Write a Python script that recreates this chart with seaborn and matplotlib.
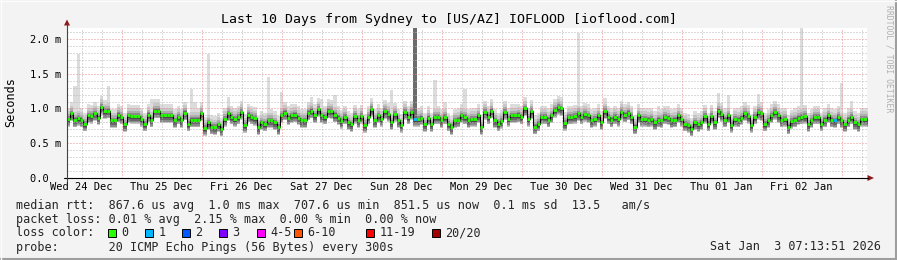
import numpy as np
import pandas as pd
import matplotlib
matplotlib.use("Agg")
import matplotlib.pyplot as plt
import seaborn as sns
from matplotlib.patches import Rectangle, Polygon
from matplotlib.lines import Line2D

# ---------------- data ----------------
title = "Last 10 Days from Sydney to [US/AZ] IOFLOOD [ioflood.com]"
y_label = "Seconds"
watermark = "RRDTOOL / TOBI OETIKER"
day_labels = ["Wed 24 Dec", "Thu 25 Dec", "Fri 26 Dec", "Sat 27 Dec", "Sun 28 Dec",
              "Mon 29 Dec", "Tue 30 Dec", "Wed 31 Dec", "Thu 01 Jan", "Fri 02 Jan"]
y_tick_values = [0.0, 0.5, 1.0, 1.5, 2.0]
y_tick_labels = ["0.0  ", "0.5 m", "1.0 m", "1.5 m", "2.0 m"]

start_hour = 7.6      # hours after Wed 24 Dec 00:00 at left edge
span_hours = 240      # 10 days
first_sample_hour = 7.5
y_top = 2.158

# hourly median RTT (ms)
median_rtt_ms = [
    0.85, 0.93, 0.84, 0.86, 0.84, 0.78, 0.90, 0.89, 0.93, 0.87,
    1.02, 0.96, 0.97, 0.83, 0.83, 0.91, 0.88, 0.77, 0.90, 0.89,
    0.89, 0.89, 0.85, 0.78, 0.91, 0.84, 0.97, 0.97, 0.90, 0.90,
    0.90, 0.90, 0.83, 0.88, 0.83, 0.94, 0.78, 0.84, 0.84, 0.84,
    0.93, 0.72, 0.80, 0.74, 0.73, 0.77, 0.71, 0.85, 0.93, 0.88,
    0.85, 0.88, 0.95, 0.76, 0.91, 0.88, 0.86, 0.73, 0.80, 0.78,
    0.83, 0.83,
    0.80, 0.73, 0.90, 0.94, 0.87, 0.90, 0.91, 0.87, 0.83, 0.83,
    0.94, 0.97, 0.90, 0.99, 0.90, 0.88, 0.97, 0.96, 0.91, 0.87,
    0.82, 0.88, 0.80, 0.77, 0.89, 0.83, 0.89, 0.76, 0.88, 0.99,
    0.83, 0.90, 0.85, 0.96, 0.92, 0.80, 0.92, 0.83, 0.76, 0.95,
    0.88, 0.95, 0.85, 0.85, 0.87, 0.77, 0.87, 0.77, 0.88, 0.88,
    0.83, 0.88, 0.78, 0.73, 0.83, 0.84, 0.90, 0.88, 0.83, 0.85,
    0.85, 0.90, 0.73, 0.95, 0.88, 0.97, 0.83, 0.78, 0.82, 0.95,
    0.85, 0.90, 0.90, 0.91, 0.88, 1.00, 0.85, 0.96, 0.74, 0.78,
    0.88, 0.88, 0.84, 0.90, 0.98, 1.02, 1.00, 0.79, 0.88, 0.88,
    0.89, 0.93, 0.88, 0.92, 0.90, 0.83, 0.85, 0.90, 0.80, 0.96,
    0.88, 0.84, 0.88, 0.85, 0.95, 0.91, 0.94, 0.88, 0.74, 0.90,
    0.85, 0.85, 0.84, 0.85, 0.80, 0.84, 0.83, 0.88, 0.87, 0.83,
    0.84, 0.90, 0.85, 0.78, 0.76, 0.71, 0.80, 0.77, 0.80, 0.89,
    0.78, 0.89, 0.80, 0.97, 0.92, 0.84, 0.90, 0.76, 0.85, 0.84,
    0.87, 0.93, 0.89, 0.76, 0.88, 0.95, 0.93, 0.78, 0.83, 0.90,
    0.95, 0.90, 0.84, 0.85, 0.74, 0.82, 0.84, 0.87, 0.88, 0.89,
    0.77, 0.83, 0.88, 0.88, 0.78, 0.84, 0.90, 0.84, 0.83, 0.88,
    0.83, 0.77, 0.84, 0.88, 0.80, 0.77, 0.85, 0.85, 0.84,
]

# packet loss count (out of 20) for samples that lost packets
loss_count = {104: 1, 230: 1}

# tall max-ping spikes (sample index -> ms)
spike_max_ms = {
    2: 1.33, 3: 1.79, 10: 1.13, 12: 1.33, 25: 1.14, 26: 1.14, 37: 1.28, 38: 1.09,
    42: 1.79, 48: 1.17, 60: 1.45, 64: 1.24, 73: 1.16, 76: 1.14, 80: 1.20,
    97: 1.26, 110: 1.41, 113: 1.09, 119: 1.28, 127: 1.12, 131: 1.10,
    137: 1.12, 147: 1.17, 153: 2.08, 161: 1.15, 177: 1.04, 195: 1.23,
    198: 1.19, 207: 1.21, 220: 2.16, 232: 1.36, 235: 1.11,
}
# sample whose whole smoke is off the top of the scale
off_scale_samples = [104]

legend_line1 = "median rtt:  867.6 us avg  1.0 ms max  707.6 us min  851.5 us now  0.1 ms sd  13.5   am/s"
legend_line2 = "packet loss: 0.01 % avg  2.15 % max  0.00 % min  0.00 % now"
legend_line3 = "loss color:"
legend_line4 = "probe:       20 ICMP Echo Pings (56 Bytes) every 300s"
timestamp = "Sat Jan  3 07:13:51 2026"

loss_labels = ["0", "1", "2", "3", "4-5", "6-10", "11-19", "20/20"]
loss_colors = ["#26ff00", "#00b8ff", "#0059ff", "#7e00ff", "#ff00ff",
               "#ff5500", "#ff0000", "#a10000"]
loss_upper = [0, 1, 2, 3, 5, 10, 19, 20]

# ---------------- style ----------------
sns.set_theme(style="white")
MONO = ["DejaVu Sans Mono"]
plt.rcParams["font.family"] = MONO

W, H = 897, 260
fig = plt.figure(figsize=(W / 100, H / 100), dpi=100, facecolor="#f3f3f3")


def fx(x):
    return x / W


def fy(y):
    return 1 - y / H


ax = fig.add_axes([fx(67), fy(178), fx(867) - fx(67), fy(28) - fy(178)])
ax.set_facecolor("white")
for s in ax.spines.values():
    s.set_visible(False)

df = pd.DataFrame({"median": median_rtt_ms})
df["hour"] = first_sample_hour + np.arange(len(df))
df["loss"] = [loss_count.get(i, 0) for i in range(len(df))]

med = df["median"].to_numpy()
hrs = df["hour"].to_numpy()

# smoke (style: band spreads around the median)
env = med + 0.16
for i, v in spike_max_ms.items():
    env[i] = max(env[i], v)
hrs_ext = np.append(hrs, hrs[-1] + 1)


def ext(a):
    return np.append(a, a[-1])


ax.fill_between(hrs_ext, ext(med - 0.11), ext(env), step="post", color="#dcdcdc", lw=0, zorder=1)
smoke_layers = [(-0.11, 0.11, "#c8c8c8"), (-0.10, 0.07, "#acacac"), (-0.09, 0.04, "#8a8a8a"),
                (-0.065, 0.02, "#686868"), (-0.04, 0.006, "#4a4a4a")]
for lo, hi, c in smoke_layers:
    ax.fill_between(hrs_ext, ext(med + lo), ext(med + hi), step="post", color=c, lw=0, zorder=1.1)

for i in off_scale_samples:
    ax.fill_between([hrs[i] - 0.1, hrs[i] + 1.2], [med[i], med[i]], [y_top, y_top],
                    color="#6b6b6b", lw=0, zorder=1.2)

# grid (dotted)
dots = dict(lw=0.72, linestyle=(0, (1, 2)), zorder=2)
for k in range(1, 22):
    v = k * 0.1
    if k % 5 == 0:
        ax.axhline(v, color="#ee8c8c", **dots)
    else:
        ax.axhline(v, color="#b8b8b8", **dots)
for h in range(6, 252, 6):
    if h % 24 == 0:
        ax.axvline(h, color="#ee8c8c", **dots)
    else:
        ax.axvline(h, color="#b8b8b8", **dots)

# median line
sns.lineplot(data=df, x="hour", y="median", drawstyle="steps-post", color="black",
             lw=0.75, ax=ax, estimator=None, sort=False, zorder=4)


def loss_color(n):
    for up, c in zip(loss_upper, loss_colors):
        if n <= up:
            return c
    return loss_colors[-1]


ax.hlines(med, hrs, hrs + 1, colors=[loss_color(n) for n in df["loss"]], lw=2.0, zorder=5)

ax.set_xlim(start_hour, start_hour + span_hours)
ax.set_ylim(0, y_top)
ax.set_xlabel("")
ax.set_ylabel("")
ax.set_xticks([12 + 24 * k for k in range(len(day_labels))])
ax.set_xticklabels(day_labels, fontsize=7.45, family=MONO, color="black")
ax.set_yticks(y_tick_values)
ax.set_yticklabels(y_tick_labels, fontsize=7.45, family=MONO, color="black")
ax.tick_params(axis="x", length=0, pad=2.6)
ax.tick_params(axis="y", length=0, pad=4.0)

# axes lines and arrows
fig.add_artist(Line2D([fx(64), fx(868)], [fy(178), fy(178)], color="black", lw=0.8))
fig.add_artist(Line2D([fx(67), fx(67)], [fy(181), fy(24)], color="#444444", lw=0.8))
arrow_c = "#8c1a1a"
fig.add_artist(Polygon([(fx(64), fy(25.5)), (fx(70), fy(25.5)), (fx(67), fy(19.5))],
                       closed=True, color=arrow_c, lw=0))
fig.add_artist(Polygon([(fx(867.5), fy(175)), (fx(867.5), fy(181)), (fx(874), fy(178))],
                       closed=True, color=arrow_c, lw=0))

# texts
fig.text(fx(448.5), fy(23.5), title, ha="center", va="baseline", fontsize=9.57,
         family=MONO, color="black")
fig.text(fx(11), fy(102.5), y_label, rotation=90, ha="center", va="center",
         fontsize=8.5, family=MONO, color="black")
fig.text(fx(888.5), fy(59), watermark, rotation=270, ha="center", va="center",
         fontsize=5.9, family=MONO, color="#b0b0b0")

leg_fs = 8.5
fig.text(fx(16), fy(208.5), legend_line1, ha="left", va="baseline", fontsize=leg_fs, family=MONO)
fig.text(fx(16), fy(222.5), legend_line2, ha="left", va="baseline", fontsize=leg_fs, family=MONO)
fig.text(fx(16), fy(236.5), legend_line3, ha="left", va="baseline", fontsize=leg_fs, family=MONO)
fig.text(fx(16), fy(250.5), legend_line4, ha="left", va="baseline", fontsize=leg_fs, family=MONO)
fig.text(fx(881), fy(250.5), timestamp, ha="right", va="baseline", fontsize=leg_fs, family=MONO)

box_x = [108, 145, 182, 219, 256.5, 293.5, 366, 432]
for bx, lab, c in zip(box_x, loss_labels, loss_colors):
    fig.add_artist(Rectangle((fx(bx), fy(236.5)), 8 / W, 8 / H, facecolor=c,
                             edgecolor="black", lw=0.7))
    fig.text(fx(bx + 13.5), fy(236.5), lab, ha="left", va="baseline", fontsize=leg_fs, family=MONO)

# frame shading
fig.add_artist(Line2D([fx(0), fx(897)], [fy(259), fy(259)], color="#9e9e9e", lw=1.5))
fig.add_artist(Line2D([fx(896), fx(896)], [fy(0), fy(260)], color="#9e9e9e", lw=1.5))
fig.add_artist(Line2D([fx(0), fx(897)], [fy(0.5), fy(0.5)], color="#fcfcfc", lw=1))
fig.add_artist(Line2D([fx(0.5), fx(0.5)], [fy(0), fy(260)], color="#fcfcfc", lw=1))

fig.savefig("out.png", dpi=100, facecolor=fig.get_facecolor())
